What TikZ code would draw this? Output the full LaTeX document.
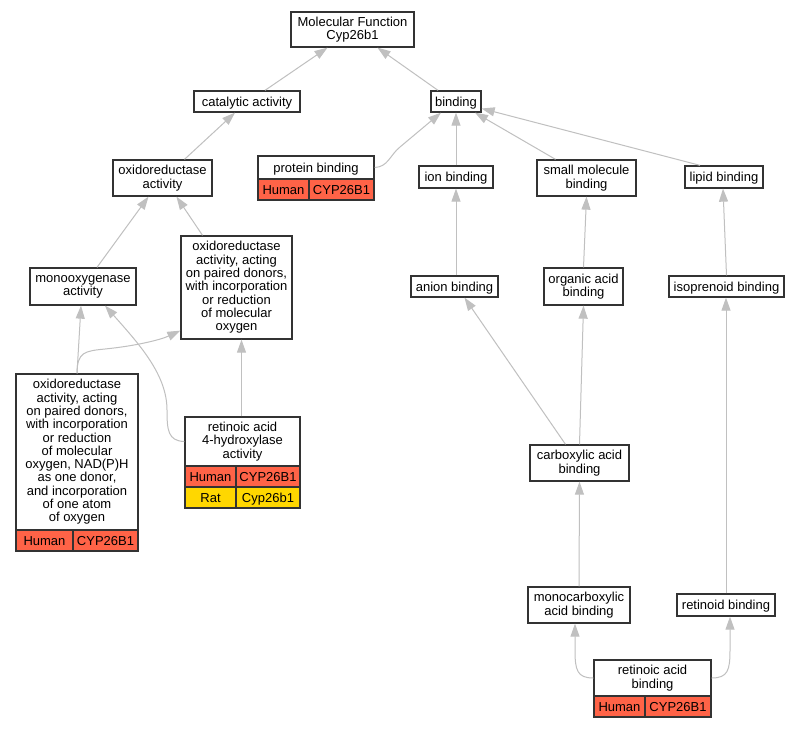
\documentclass[tikz,border=0pt]{standalone}
\usepackage{fontspec}
\setmainfont{Liberation Sans}
\usetikzlibrary{arrows.meta}
\definecolor{edgec}{HTML}{C0C0C0}
\definecolor{bordc}{HTML}{333333}
\definecolor{hred}{HTML}{FF6347}
\definecolor{ryel}{HTML}{FFD700}
\newcommand{\lblfont}{\fontsize{13}{13.3}\selectfont}
\begin{document}
\begin{tikzpicture}[x=1pt,y=-1pt,
 box/.style={draw=bordc, line width=1.3pt, fill=white, align=center, inner sep=0pt, font=\lblfont},
 sl/.style={text height=11pt, text depth=2pt},
 hcell/.style={box, sl, fill=hred},
 ycell/.style={box, sl, fill=ryel},
 edge/.style={draw=edgec, line width=1pt, -{Triangle[length=13pt,width=9pt]}}]
\fill[white] (0,0) rectangle (800,728);
\useasboundingbox (0,0) rectangle (800,728);

% nodes
\node[box, minimum width=123pt, minimum height=35pt] (mf) at (352.5,29.5) {Molecular Function\\Cyp26b1};
\node[box, sl, minimum width=106pt, minimum height=21pt] (cat) at (247,101.5) {catalytic activity};
\node[box, sl, minimum width=50pt, minimum height=21pt] (bind) at (456,101.5) {binding};
\node[box, minimum width=99pt, minimum height=36pt] (oxr) at (162.5,178) {oxidoreductase\\activity};
\node[box, sl, minimum width=116pt, minimum height=23pt] (pb) at (316,167.5) {protein binding};
\node[hcell, minimum width=51pt, minimum height=21pt] (pbh) at (283.5,189.5) {Human};
\node[hcell, minimum width=65pt, minimum height=21pt] (pbg) at (341.5,189.5) {CYP26B1};
\node[box, sl, minimum width=74pt, minimum height=22pt] (ion) at (456,177) {ion binding};
\node[box, minimum width=99pt, minimum height=36pt] (smb) at (586.5,178) {small molecule\\binding};
\node[box, sl, minimum width=78pt, minimum height=22pt] (lip) at (724,177) {lipid binding};
\node[box, minimum width=106pt, minimum height=37pt] (mono) at (83,286.5) {monooxygenase\\activity};
\node[box, minimum width=111pt, minimum height=103pt] (mid) at (236.5,287.5) {oxidoreductase\\activity, acting\\on paired donors,\\with incorporation\\or reduction\\of molecular\\oxygen};
\node[box, sl, minimum width=87pt, minimum height=21pt] (anion) at (454.5,286.5) {anion binding};
\node[box, minimum width=79pt, minimum height=37pt] (org) at (583.5,286.5) {organic acid\\binding};
\node[box, sl, minimum width=115pt, minimum height=21pt] (iso) at (726.5,286.5) {isoprenoid binding};
\node[box, minimum width=122pt, minimum height=156pt] (big) at (77,452) {oxidoreductase\\activity, acting\\on paired donors,\\with incorporation\\or reduction\\of molecular\\oxygen, NAD(P)H\\as one donor,\\and incorporation\\of one atom\\of oxygen};
\node[hcell, minimum width=57pt, minimum height=21pt] (bigh) at (44.5,540.5) {Human};
\node[hcell, minimum width=65pt, minimum height=21pt] (bigg) at (105.5,540.5) {CYP26B1};
\node[box, minimum width=115pt, minimum height=49pt] (ra4) at (242.5,441.5) {retinoic acid\\4-hydroxylase\\activity};
\node[hcell, minimum width=51pt, minimum height=21pt] (ra4h) at (210.5,476.5) {Human};
\node[hcell, minimum width=64pt, minimum height=21pt] (ra4g) at (268,476.5) {CYP26B1};
\node[ycell, minimum width=51pt, minimum height=21pt] (ra4r) at (210.5,497.5) {Rat};
\node[ycell, minimum width=64pt, minimum height=21pt] (ra4c) at (268,497.5) {Cyp26b1};
\node[box, minimum width=99pt, minimum height=36pt] (carb) at (579.5,463) {carboxylic acid\\binding};
\node[box, minimum width=102pt, minimum height=36pt] (monoc) at (579,605) {monocarboxylic\\acid binding};
\node[box, sl, minimum width=98pt, minimum height=22pt] (retd) at (726,605) {retinoid binding};
\node[box, minimum width=117pt, minimum height=36pt] (rab) at (652.5,678) {retinoic acid\\binding};
\node[hcell, minimum width=51pt, minimum height=21pt] (rabh) at (619.5,706.5) {Human};
\node[hcell, minimum width=66pt, minimum height=21pt] (rabg) at (678,706.5) {CYP26B1};

% edges
\draw[edge] ([xshift=18pt]cat.north) -- ([xshift=-25pt]mf.south);
\draw[edge] ([xshift=-18pt]bind.north) -- ([xshift=25pt]mf.south);
\draw[edge] ([xshift=22pt]oxr.north) -- ([xshift=-12pt]cat.south);
\draw[edge] (pb.east) .. controls (388,167) and (390,155) .. (400,147) -- ([xshift=-15pt]bind.south);
\draw[edge] (ion.north) -- (bind.south);
\draw[edge] ([xshift=-31pt]smb.north) -- ([xshift=19pt]bind.south);
\draw[edge] ([xshift=-24pt]lip.north) -- ([yshift=-7pt]bind.east);
\draw[edge] ([xshift=14pt]mono.north) -- ([xshift=-14pt]oxr.south);
\draw[edge] ([xshift=-34pt]mid.north) -- ([xshift=14pt]oxr.south);
\draw[edge] (big.north) -- ([xshift=-2pt]mono.south);
\draw[edge] (big.north) .. controls (77,352) and (85,351) .. (105,349) .. controls (135,346) and (160,340) .. ([yshift=9pt]mid.south west);
\draw[edge] (ra4.west) .. controls (168,441) and (167,430) .. (167,410) .. controls (167,375) and (140,345) .. ([xshift=22pt]mono.south);
\draw[edge] ([xshift=-1pt]ra4.north) -- ([xshift=5pt]mid.south);
\draw[edge] ([xshift=1.5pt]anion.north) -- (ion.south);
\draw[edge] (org.north) -- (smb.south);
\draw[edge] (iso.north) -- ([xshift=-1pt]lip.south);
\draw[edge] ([xshift=-14pt]carb.north) -- ([xshift=10pt]anion.south);
\draw[edge] (carb.north) -- (org.south);
\draw[edge] (monoc.north) -- (carb.south);
\draw[edge] (retd.north) -- ([xshift=-0.5pt]iso.south);
\draw[edge] (rab.west) .. controls (577,678) and (575,670) .. (575,650) -- ([xshift=-4pt]monoc.south);
\draw[edge] (rab.east) .. controls (728,678) and (730,670) .. (730,650) -- ([xshift=4pt]retd.south);
\end{tikzpicture}
\end{document}
